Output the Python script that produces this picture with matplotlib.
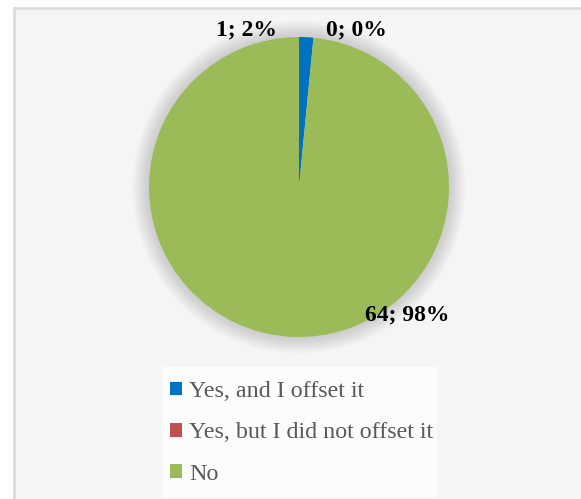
import matplotlib
matplotlib.use("Agg")
import matplotlib.pyplot as plt
from matplotlib.patches import Rectangle, Circle, Patch
from matplotlib.lines import Line2D

categories = ["Yes, and I offset it", "Yes, but I did not offset it", "No"]
values = [1, 0, 64]
percent_labels = ["2%", "0%", "98%"]
colors = ["#0070C0", "#C0504D", "#9BBB59"]

plt.rcParams['font.family'] = ['Liberation Serif', 'DejaVu Serif']
plt.rcParams['hatch.linewidth'] = 2.0
plt.rcParams['hatch.color'] = '#f5f5f5'

W, H = 581, 499
fig = plt.figure(figsize=(W/100, H/100), dpi=100)
fig.patch.set_facecolor('white')

# hatched chart-area background
bg = Rectangle((15/W, 0), 1, 1 - 8/H, transform=fig.transFigure,
               facecolor='#fefefe', edgecolor='#f5f5f5', hatch='\\' * 11,
               linewidth=0, zorder=-5)
fig.patches.append(bg)
fig.lines.append(Line2D([14/W, 14/W], [0, 1 - 8/H], transform=fig.transFigure,
                        color='#d9d9d9', lw=1.8, zorder=-4))
fig.lines.append(Line2D([14/W, 1], [1 - 8/H, 1 - 8/H], transform=fig.transFigure,
                        color='#d9d9d9', lw=1.8, zorder=-4))

# pie axes: center (299,187) px, radius 150 px
cx, cy, R = 299, 187, 150
L = 1.3
ax = fig.add_axes([(cx - R*L)/W, (H - cy - R*L)/H, 2*R*L/W, 2*R*L/H])
ax.set_zorder(2)
ax.patch.set_visible(False)

# soft shadow
for k in range(14, 0, -1):
    ax.add_patch(Circle((0, 0.0), 1 + k*0.008, color='#808080', alpha=0.025, lw=0, zorder=1))

wedges, _ = ax.pie(values, colors=colors, startangle=90, counterclock=False,
                   radius=1, wedgeprops=dict(linewidth=0), normalize=True)
for w in wedges:
    w.set_zorder(2)
ax.set_xlim(-L, L)
ax.set_ylim(-L, L)
ax.set_aspect('equal')
ax.axis('off')

label_pos = [(-0.353, 1.047), (0.38, 1.047), (0.72, -0.853)]
for (x, y), v, p in zip(label_pos, values, percent_labels):
    ax.text(x, y, f"{v}; {p}", ha='center', va='center', fontsize=17,
            fontweight='bold', color='black', zorder=3)

# legend box
fig.patches.append(Rectangle((162/W, 1 - 497/H), (437-162)/W, (497-367)/H,
                             transform=fig.transFigure, facecolor='white',
                             edgecolor='none', alpha=0.7, zorder=-3))
handles = [Patch(facecolor=c, edgecolor='none') for c in colors]
leg = fig.legend(handles, categories, loc='upper left',
                 bbox_to_anchor=(170/W, 1 - 381/H), frameon=False,
                 fontsize=17.3, handlelength=0.5, handleheight=0.5,
                 handletextpad=0.3, labelspacing=0.85, borderaxespad=0,
                 borderpad=0)
leg.set_zorder(3)
for t in leg.get_texts():
    t.set_color('#595959')

fig.savefig('out.png', dpi=100, facecolor='white')
